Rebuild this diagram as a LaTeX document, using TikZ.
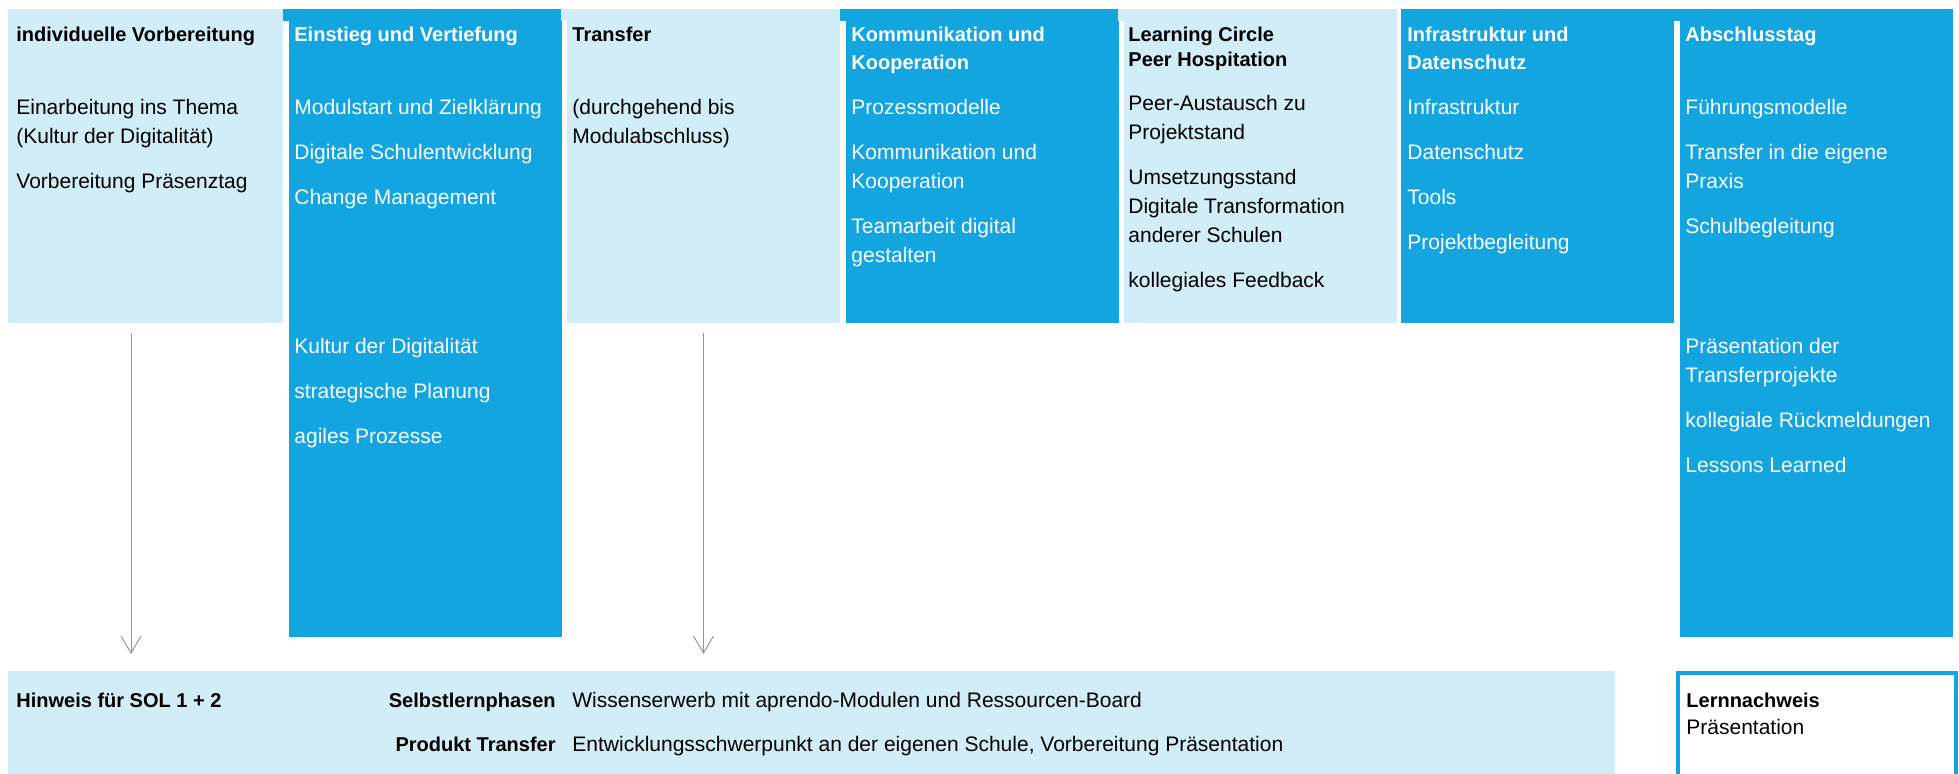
\documentclass[tikz,border=0pt]{standalone}
\usepackage{fontspec}
\setmainfont{Liberation Sans}
\usetikzlibrary{arrows.meta,positioning}
\definecolor{hellblau}{RGB}{209,238,248}
\definecolor{blau}{RGB}{18,165,224}
\definecolor{pfeilgrau}{RGB}{150,150,150}
% mehrzeilige Texte, Grundlinie der ersten Zeile
\newcommand{\zeilen}[1]{\begin{tabular}[t]{@{}l@{}}#1\end{tabular}}

\tikzset{
  zelle/.style={rectangle, inner sep=0pt, outer sep=0pt, anchor=north west, minimum width=136.5pt},
  hell/.style={zelle, fill=hellblau},
  dunkel/.style={zelle, fill=blau},
  txt/.style={anchor=base west, inner sep=0pt, font=\fontsize{10.5}{14.5}\selectfont},
  titel/.style={anchor=base west, inner sep=0pt, font=\fontsize{10}{14}\selectfont\bfseries},
  weiss/.style={text=white},
  pfeil/.style={draw=pfeilgrau, line width=0.5pt, -{Straight Barb[length=8.5pt,width=10pt]}, shorten <=5pt, shorten >=8.5pt}
}

\begin{document}
\begin{tikzpicture}[x=0.5pt, y=-0.5pt]
  \useasboundingbox (0,0) rectangle (1959,773);
  \clip (0,0) rectangle (1959,773);
  % Spalten
  \node[hell, minimum width=137.5pt, minimum height=157pt] (vorb) at (8,9) {};
  \node[dunkel, minimum height=314pt] (einstieg) at (289,9) {};
  \node[hell, minimum height=157pt] (transfer) at (567,9) {};
  \node[dunkel, minimum height=157pt] (komm) at (846,9) {};
  \node[hell, minimum height=157pt] (circle) at (1124,9) {};
  \node[dunkel, minimum height=157pt] (infra) at (1401,9) {};
  \node[dunkel, minimum height=314pt] (abschluss) at (1680,9) {};
  \foreach \x/\f in {283/blau, 561/hellblau, 840/blau, 1118/hellblau, 1674/blau}
    \fill[\f] (\x,9) rectangle ++(7,12);
  % untere Leiste
  \node[hell, minimum width=803.5pt, minimum height=60pt] (hinweis) at (8,671) {};
  \node[zelle, draw=blau, line width=2pt, fill=white, minimum width=139pt, minimum height=60pt] (nachweis) at (1678,673) {};

  % Texte
  \node[titel] (t1) at (16,41) {individuelle Vorbereitung};
  \node[txt] (b1) at (16,114) {\zeilen{Einarbeitung ins Thema\\(Kultur der Digitalität)\\[8pt]Vorbereitung Präsenztag}};
  \node[titel, weiss] (t2) at (294,41) {Einstieg und Vertiefung};
  \node[txt, weiss] (b2) at (294,114) {\zeilen{Modulstart und Zielklärung\\[8pt]Digitale Schulentwicklung\\[8pt]Change Management}};
  \node[txt, weiss] (b2u) at (294,353) {\zeilen{Kultur der Digitalität\\[8pt]strategische Planung\\[8pt]agiles Prozesse}};
  \node[titel] (t3) at (572,41) {Transfer};
  \node[txt] (b3) at (572,114) {\zeilen{(durchgehend bis\\Modulabschluss)}};
  \node[titel, weiss] (t4) at (851,41) {\zeilen{Kommunikation und\\Kooperation}};
  \node[txt, weiss] (b4) at (851,114) {\zeilen{Prozessmodelle\\[8pt]Kommunikation und\\Kooperation\\[8pt]Teamarbeit digital\\gestalten}};
  \node[titel, font=\fontsize{10}{12.5}\selectfont\bfseries] (t5) at (1128,41) {\zeilen{Learning Circle\\Peer Hospitation}};
  \node[txt] (b5) at (1128,110) {\zeilen{Peer-Austausch zu\\Projektstand\\[8pt]Umsetzungsstand\\Digitale Transformation\\anderer Schulen\\[8pt]kollegiales Feedback}};
  \node[titel, weiss] (t6) at (1407,41) {\zeilen{Infrastruktur und\\Datenschutz}};
  \node[txt, weiss] (b6) at (1407,114) {\zeilen{Infrastruktur\\[8pt]Datenschutz\\[8pt]Tools\\[8pt]Projektbegleitung}};
  \node[titel, weiss] (t7) at (1685,41) {Abschlusstag};
  \node[txt, weiss] (b7) at (1685,114) {\zeilen{Führungsmodelle\\[8pt]Transfer in die eigene\\Praxis\\[8pt]Schulbegleitung}};
  \node[txt, weiss] (b7u) at (1685,353) {\zeilen{Präsentation der\\Transferprojekte\\[8pt]kollegiale Rückmeldungen\\[8pt]Lessons Learned}};

  \node[titel] (sol) at (16,707) {Hinweis für SOL 1 + 2};
  \node[titel, anchor=base east] (selbst) at (556,707) {Selbstlernphasen};
  \node[txt] (selbsttxt) at (572,707) {Wissenserwerb mit aprendo-Modulen und Ressourcen-Board};
  \node[titel, anchor=base east] (produkt) at (556,751) {Produkt Transfer};
  \node[txt] (produkttxt) at (572,751) {Entwicklungsschwerpunkt an der eigenen Schule, Vorbereitung Präsentation};
  \node[titel] (lern) at (1686,707) {Lernnachweis};
  \node[txt] (praes) at (1686,734) {Präsentation};

  % Pfeile
  \draw[pfeil] ([xshift=-7.25pt]vorb.south) -- ([xshift=-7.25pt]vorb.south |- hinweis.north);
  \draw[pfeil] (transfer.south) -- (transfer.south |- hinweis.north);
\end{tikzpicture}
\end{document}
